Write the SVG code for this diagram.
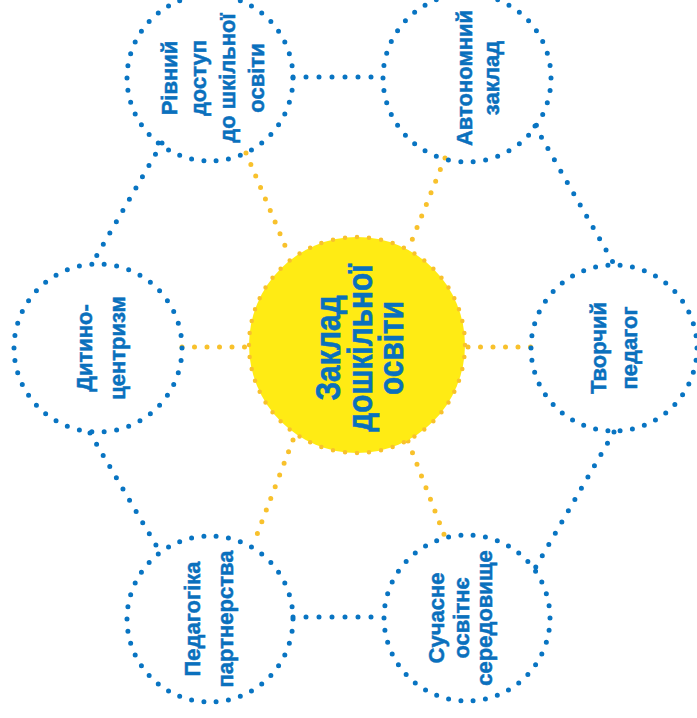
<svg xmlns="http://www.w3.org/2000/svg" width="697" height="718" viewBox="0 0 697 718">
<style>
.bg{fill:#ffffff}
.node{fill:none;stroke:#0874c2;stroke-width:5;stroke-linecap:round;stroke-dasharray:0 1}
.core{fill:#ffeb14;stroke:#f8c12c;stroke-width:4.5;stroke-linecap:round;stroke-dasharray:0 1}
.edge{stroke:#0874c2;stroke-width:5;stroke-linecap:round;stroke-dasharray:0 13;fill:none}
.spoke{stroke:#f8c12c;stroke-width:5;stroke-linecap:round;stroke-dasharray:0 12.5;fill:none}
.t{font-family:"Liberation Sans",Arial,sans-serif;font-weight:bold;font-size:22px;fill:#0a70bd;stroke:#0a70bd;stroke-width:0.5;text-anchor:middle}
.tc{font-family:"Liberation Sans",Arial,sans-serif;font-weight:bold;font-size:36px;fill:#0a70bd;stroke:#0a70bd;stroke-width:0.6;text-anchor:middle}
</style>
<rect class="bg" x="0" y="0" width="697" height="718"/>
<g id="connectors">
<line class="edge" x1="293" y1="77" x2="383" y2="77"/>
<line class="edge" x1="162" y1="143" x2="93" y2="262"/>
<line class="edge" x1="535" y1="126" x2="614" y2="264"/>
<line class="edge" x1="90" y1="433" x2="160" y2="552"/>
<line class="edge" x1="614" y1="432" x2="534" y2="570"/>
<line class="edge" x1="293" y1="617" x2="384" y2="617"/>
<line class="spoke" x1="246" y1="153" x2="289" y2="255"/>
<line class="spoke" x1="445" y1="158" x2="408" y2="250"/>
<line class="spoke" x1="182" y1="347" x2="248" y2="347"/>
<line class="spoke" x1="468" y1="347" x2="531" y2="347"/>
<line class="spoke" x1="293" y1="440" x2="253" y2="545"/>
<line class="spoke" x1="408" y1="441" x2="445" y2="537"/>
</g>
<g id="center">
<circle class="core" cx="357" cy="345" r="108" pathLength="56"/>
<g transform="translate(357,348) rotate(-90) scale(0.83,1)">
<text class="tc" x="0" y="-17">Заклад</text>
<text class="tc" x="0" y="15">дошкільної</text>
<text class="tc" x="0" y="46">освіти</text>
</g>
</g>
<g id="n1">
<circle class="node" cx="210" cy="78" r="83" pathLength="42"/>
<g transform="translate(210,78) rotate(-90)">
<text class="t" x="0" y="-33">Рівний</text>
<text class="t" x="0" y="-4">доступ</text>
<text class="t" x="0" y="25">до шкільної</text>
<text class="t" x="0" y="54">освіти</text>
</g>
</g>
<g id="n2">
<circle class="node" cx="467" cy="78" r="84" pathLength="42"/>
<g transform="translate(467,78) rotate(-90)">
<text class="t" x="0" y="5">Автономний</text>
<text class="t" x="0" y="32">заклад</text>
</g>
</g>
<g id="n3">
<circle class="node" cx="98" cy="348" r="84" pathLength="42"/>
<g transform="translate(98,348) rotate(-90)">
<text class="t" x="0" y="-6">Дитино-</text>
<text class="t" x="0" y="27">центризм</text>
</g>
</g>
<g id="n4">
<circle class="node" cx="614" cy="348" r="83" pathLength="42"/>
<g transform="translate(614,348) rotate(-90)">
<text class="t" x="0" y="-8">Творчий</text>
<text class="t" x="0" y="23">педагог</text>
</g>
</g>
<g id="n5">
<circle class="node" cx="210" cy="619" r="83" pathLength="42"/>
<g transform="translate(210,619) rotate(-90)">
<text class="t" x="0" y="-10">Педагогіка</text>
<text class="t" x="0" y="23">партнерства</text>
</g>
</g>
<g id="n6">
<circle class="node" cx="467" cy="618" r="83" pathLength="42"/>
<g transform="translate(467,618) rotate(-90)">
<text class="t" x="0" y="-23">Сучасне</text>
<text class="t" x="0" y="2">освітнє</text>
<text class="t" x="0" y="25">середовище</text>
</g>
</g>
</svg>
